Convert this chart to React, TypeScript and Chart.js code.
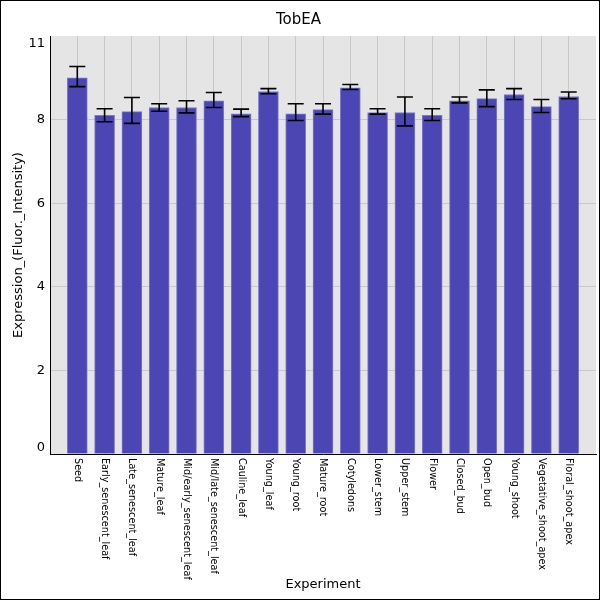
import React, { useEffect, useRef } from "react";
import { Chart, registerables, Plugin } from "chart.js";

Chart.register(...registerables);

const categories = [
  "Seed",
  "Early_senescent_leaf",
  "Late_senescent_leaf",
  "Mature_leaf",
  "Mid/early_senescent_leaf",
  "Mid/late_senescent_leaf",
  "Cauline_leaf",
  "Young_leaf",
  "Young_root",
  "Mature_root",
  "Cotyledons",
  "Lower_stem",
  "Upper_stem",
  "Flower",
  "Closed_bud",
  "Open_bud",
  "Young_shoot",
  "Vegetative_shoot_apex",
  "Floral_shoot_apex",
];

const expression = [
  9.0, 8.1, 8.19, 8.29, 8.29, 8.45, 8.14, 8.67, 8.14, 8.24, 8.76, 8.17, 8.17,
  8.1, 8.45, 8.5, 8.6, 8.31, 8.55,
];
const errLow = [
  8.79, 7.95, 7.91, 8.2, 8.16, 8.29, 8.07, 8.62, 7.98, 8.13, 8.72, 8.13, 7.85,
  7.98, 8.4, 8.31, 8.48, 8.17, 8.5,
];
const errHigh = [
  9.27, 8.26, 8.53, 8.38, 8.45, 8.65, 8.25, 8.74, 8.38, 8.38, 8.84, 8.26, 8.54,
  8.26, 8.54, 8.71, 8.74, 8.48, 8.66,
];

const yTickValues = [0, 2, 4, 6, 8, 10];
const yTickLabels = ["0", "2", "4", "6", "8", "11"];

const FONT = "'DejaVu Sans', sans-serif";

// grey plot background
const bgPlugin: Plugin = {
  id: "plotBg",
  beforeDraw(chart) {
    const { ctx, chartArea } = chart;
    ctx.save();
    ctx.fillStyle = "#e5e5e5";
    ctx.fillRect(
      chartArea.left,
      chartArea.top,
      chartArea.right - chartArea.left,
      chartArea.bottom - chartArea.top
    );
    ctx.restore();
  },
};

// error bars, rotated category labels, y tick labels
const extrasPlugin: Plugin = {
  id: "extras",
  afterDatasetsDraw(chart) {
    const { ctx } = chart;
    const y = chart.scales.y;
    const meta = chart.getDatasetMeta(0);
    ctx.save();
    ctx.strokeStyle = "#000";
    ctx.lineWidth = 1.6;
    meta.data.forEach((bar: any, i: number) => {
      const x = bar.x;
      const yl = y.getPixelForValue(errLow[i]);
      const yh = y.getPixelForValue(errHigh[i]);
      ctx.beginPath();
      ctx.moveTo(x, yl);
      ctx.lineTo(x, yh);
      ctx.moveTo(x - 8, yl);
      ctx.lineTo(x + 8, yl);
      ctx.moveTo(x - 8, yh);
      ctx.lineTo(x + 8, yh);
      ctx.stroke();
    });
    ctx.restore();
  },
  afterDraw(chart) {
    const { ctx, chartArea } = chart;
    const xs = chart.scales.x;
    const ys = chart.scales.y;
    ctx.save();
    ctx.fillStyle = "#000";
    ctx.font = `9.7px ${FONT}`;
    ctx.textAlign = "left";
    ctx.textBaseline = "middle";
    categories.forEach((c, i) => {
      const x = xs.getPixelForValue(i + 1);
      ctx.save();
      ctx.translate(x, chartArea.bottom + 4);
      ctx.rotate(Math.PI / 2);
      ctx.fillText(c, 0, 0);
      ctx.restore();
    });
    ctx.font = `13px ${FONT}`;
    ctx.textAlign = "right";
    yTickValues.forEach((v, i) => {
      let py = ys.getPixelForValue(v);
      py = Math.min(Math.max(py, chartArea.top + 8), chartArea.bottom - 6);
      ctx.fillText(yTickLabels[i], chartArea.left - 5, py);
    });
    ctx.restore();
  },
};

const App: React.FC = () => {
  const canvasRef = useRef<HTMLCanvasElement>(null);
  const chartRef = useRef<Chart>();

  useEffect(() => {
    document.body.style.margin = "0";
    if (!canvasRef.current) return;
    const ctx = canvasRef.current.getContext("2d");
    if (!ctx) return;
    if (chartRef.current) chartRef.current.destroy();

    chartRef.current = new Chart(ctx, {
      type: "bar",
      data: {
        datasets: [
          {
            data: expression.map((v, i) => ({ x: i + 1, y: v })),
            backgroundColor: "#4b46b4",
            borderColor: "#7c79cc",
            borderWidth: 1,
            barThickness: 20,
          },
        ],
      },
      plugins: [bgPlugin, extrasPlugin],
      options: {
        animation: false,
        responsive: true,
        maintainAspectRatio: false,
        layout: { padding: { left: 0, right: 3, top: 0, bottom: 0 } },
        plugins: {
          legend: { display: false },
          tooltip: { enabled: false },
          title: {
            display: true,
            text: "TobEA",
            color: "#000",
            font: { family: FONT, size: 15, weight: "normal" },
            padding: { top: 10, bottom: 7 },
          },
        },
        scales: {
          x: {
            type: "linear",
            offset: false,
            min: 0,
            max: categories.length + 1,
            ticks: { display: false, stepSize: 1 },
            grid: {
              offset: false,
              drawTicks: false,
              color: (c: any) =>
                c.tick && c.tick.value > 0 && c.tick.value <= categories.length
                  ? "#c8c8c8"
                  : "rgba(0,0,0,0)",
            },
            border: { color: "#000", width: 1 },
            title: {
              display: true,
              text: "Experiment",
              color: "#000",
              font: { family: FONT, size: 13 },
              padding: { top: 0, bottom: 7 },
            },
            afterFit: (s: any) => {
              s.height = 145;
            },
          },
          y: {
            min: 0,
            max: 10,
            afterBuildTicks: (s: any) => {
              s.ticks = yTickValues.map((v) => ({ value: v }));
            },
            ticks: { display: false },
            grid: {
              drawTicks: false,
              color: (c: any) =>
                c.tick && c.tick.value > 0 && c.tick.value < 10
                  ? "#c8c8c8"
                  : "rgba(0,0,0,0)",
            },
            border: { color: "#000", width: 1 },
            title: {
              display: true,
              text: "Expression_(Fluor._Intensity)",
              color: "#000",
              font: { family: FONT, size: 13 },
              padding: { top: 10, bottom: 0 },
            },
            afterFit: (s: any) => {
              s.width = 49;
            },
          },
        },
      },
    });

    return () => {
      if (chartRef.current) {
        chartRef.current.destroy();
        chartRef.current = undefined;
      }
    };
  }, []);

  return (
    <div
      style={{
        width: 600,
        height: 600,
        border: "1px solid #000",
        boxSizing: "border-box",
        background: "#fff",
        position: "relative",
      }}
    >
      <canvas ref={canvasRef} />
    </div>
  );
};

export default App;
